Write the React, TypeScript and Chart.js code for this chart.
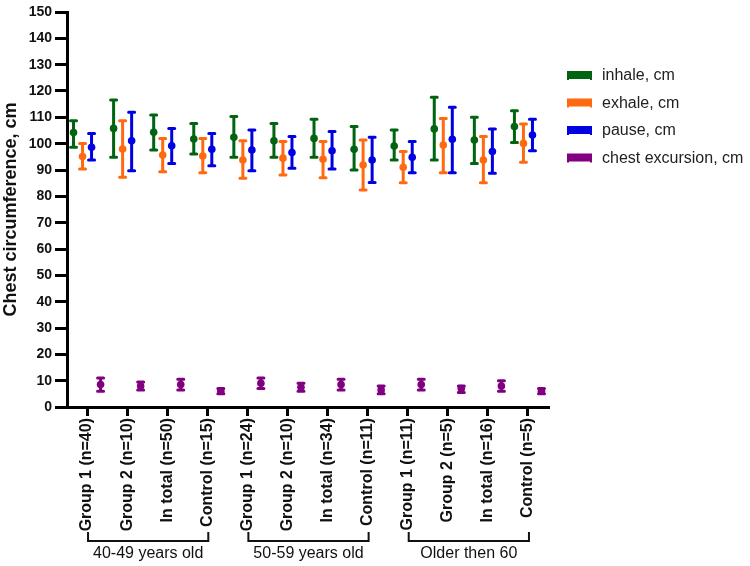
import { useEffect, useRef } from 'react';
import { Chart, registerables } from 'chart.js';

Chart.register(...registerables);

const FONT = "'Liberation Sans', Arial, sans-serif";

const categories = [
  'Group 1 (n=40)', 'Group 2 (n=10)', 'In total (n=50)', 'Control (n=15)',
  'Group 1 (n=24)', 'Group 2 (n=10)', 'In total (n=34)', 'Control (n=11)',
  'Group 1 (n=11)', 'Group 2 (n=5)', 'In total (n=16)', 'Control (n=5)',
];

const groupLabels = ['40-49 years old', '50-59 years old', 'Older then 60'];
const groupFirst = [0, 4, 8];
const groupLast = [3, 7, 11];

const seriesLabels = ['inhale, cm', 'exhale, cm', 'pause, cm', 'chest excursion, cm'];
const seriesColors = ['#006410', '#ff6a10', '#0000e0', '#800080'];

const yTicksMin = 0;
const yTicksMax = 150;
const yTicksStep = 10;

const inhaleMean = [104.2, 105.8, 104.3, 101.8, 102.4, 101.1, 102.0, 97.9, 99.1, 105.6, 101.4, 106.5];
const inhaleLow = [98.6, 94.8, 97.6, 96.1, 94.8, 94.8, 94.8, 90.0, 93.8, 93.8, 92.5, 100.4];
const inhaleHigh = [108.7, 116.6, 110.9, 107.7, 110.3, 107.7, 109.3, 106.5, 105.2, 117.6, 110.0, 112.5];

const exhaleMean = [95.1, 98.0, 95.7, 95.3, 93.8, 94.5, 94.1, 91.9, 91.0, 99.5, 93.8, 100.1];
const exhaleLow = [90.4, 87.2, 89.3, 89.0, 86.9, 88.1, 87.1, 82.4, 85.2, 89.0, 85.2, 92.9];
const exhaleHigh = [100.1, 108.7, 102.0, 102.0, 101.1, 100.8, 100.8, 101.4, 97.0, 109.6, 102.7, 107.5];

const pauseMean = [98.6, 101.1, 99.2, 97.9, 97.6, 96.6, 97.3, 93.8, 94.8, 101.7, 97.0, 103.3];
const pauseLow = [93.8, 89.7, 92.5, 91.6, 89.7, 90.7, 90.4, 85.3, 89.0, 89.0, 88.8, 97.3];
const pauseHigh = [103.9, 111.9, 105.8, 103.9, 105.2, 102.7, 104.6, 102.4, 100.8, 113.8, 105.6, 109.3];

const excursionMean = [8.5, 8.0, 8.5, 6.0, 9.0, 7.5, 8.5, 6.5, 8.5, 7.0, 8.0, 6.0];
const excursionLow = [6.0, 6.5, 6.5, 5.0, 7.0, 6.0, 6.5, 5.0, 6.5, 5.5, 6.0, 5.0];
const excursionHigh = [11.0, 9.5, 10.5, 7.0, 11.0, 9.0, 10.5, 8.0, 10.5, 8.0, 10.0, 7.0];

const errorBarPlugin = {
  id: 'errorBars',
  afterDatasetsDraw(chart: any) {
    const ctx = chart.ctx;
    const yScale = chart.scales.y;
    chart.data.datasets.forEach((ds: any, di: number) => {
      const meta = chart.getDatasetMeta(di);
      ctx.save();
      ctx.strokeStyle = ds.errColor;
      ctx.fillStyle = ds.errColor;
      ctx.lineWidth = 3;
      ctx.lineCap = 'round';
      meta.data.forEach((el: any, j: number) => {
        const x = el.x;
        const yl = yScale.getPixelForValue(ds.low[j]);
        const yh = yScale.getPixelForValue(ds.high[j]);
        const ym = yScale.getPixelForValue(ds.data[j]);
        ctx.beginPath();
        ctx.moveTo(x, yl);
        ctx.lineTo(x, yh);
        ctx.moveTo(x - 3, yl);
        ctx.lineTo(x + 3, yl);
        ctx.moveTo(x - 3, yh);
        ctx.lineTo(x + 3, yh);
        ctx.stroke();
        ctx.beginPath();
        ctx.arc(x, ym, 3.8, 0, Math.PI * 2);
        ctx.fill();
      });
      ctx.restore();
    });
  },
};

const groupsPlugin = {
  id: 'groupBrackets',
  afterDraw(chart: any) {
    const ctx = chart.ctx;
    const xScale = chart.scales.x;
    const base = chart.chartArea.bottom;
    ctx.save();
    ctx.strokeStyle = '#111';
    ctx.lineWidth = 2;
    ctx.fillStyle = '#111';
    ctx.font = `16px ${FONT}`;
    ctx.textAlign = 'center';
    ctx.textBaseline = 'middle';
    groupLabels.forEach((label, g) => {
      const x1 = xScale.getPixelForValue(groupFirst[g]) + 1;
      const x2 = xScale.getPixelForValue(groupLast[g]) + 1;
      ctx.beginPath();
      ctx.moveTo(x1, base + 125);
      ctx.lineTo(x1, base + 134);
      ctx.lineTo(x2, base + 134);
      ctx.lineTo(x2, base + 125);
      ctx.stroke();
      ctx.fillText(label, (x1 + x2) / 2, base + 147);
    });
    ctx.restore();

    // legend
    ctx.save();
    ctx.font = `16px ${FONT}`;
    ctx.textAlign = 'left';
    ctx.textBaseline = 'middle';
    const lx = chart.chartArea.right + 19;
    chart.data.datasets.forEach((ds: any, i: number) => {
      const cy = 75 + i * 27.5;
      ctx.fillStyle = ds.errColor;
      ctx.fillRect(lx, cy - 4, 25, 8);
      ctx.fillRect(lx, cy + 2, 2, 3);
      ctx.fillRect(lx + 23, cy + 2, 2, 3);
      ctx.fillStyle = '#222';
      ctx.fillText(ds.label, lx + 35, cy + 1);
    });
    ctx.restore();
  },
};

export default function App() {
  const ref = useRef<HTMLCanvasElement>(null);

  useEffect(() => {
    if (!ref.current) return;
    const means = [inhaleMean, exhaleMean, pauseMean, excursionMean];
    const lows = [inhaleLow, exhaleLow, pauseLow, excursionLow];
    const highs = [inhaleHigh, exhaleHigh, pauseHigh, excursionHigh];
    const chart = new Chart(ref.current, {
      type: 'bar',
      data: {
        labels: categories,
        datasets: seriesLabels.map((label, i) => ({
          label,
          data: means[i],
          low: lows[i],
          high: highs[i],
          errColor: seriesColors[i],
          backgroundColor: 'rgba(0,0,0,0)',
          borderWidth: 0,
          categoryPercentage: 0.9,
          barPercentage: 1,
        })) as any,
      },
      options: {
        responsive: false,
        animation: false,
        layout: { padding: { top: 12, right: 202, bottom: 0, left: 0 } },
        plugins: {
          legend: { display: false },
          tooltip: { enabled: false },
        },
        scales: {
          x: {
            afterFit: (scale: any) => { scale.height = 159; },
            border: { display: true, color: '#000', width: 3 },
            grid: {
              offset: false,
              drawOnChartArea: false,
              drawTicks: true,
              tickLength: 9,
              color: '#000',
              lineWidth: 3,
            },
            ticks: {
              autoSkip: false,
              maxRotation: 90,
              minRotation: 90,
              padding: 2,
              color: '#111',
              font: { family: FONT, size: 16, weight: 'bold' },
            },
          },
          y: {
            min: yTicksMin,
            max: yTicksMax,
            afterFit: (scale: any) => { scale.width = 67; },
            border: { display: true, color: '#000', width: 3 },
            grid: {
              drawOnChartArea: false,
              drawTicks: true,
              tickLength: 12,
              color: '#000',
              lineWidth: 3,
            },
            ticks: {
              stepSize: yTicksStep,
              autoSkip: false,
              padding: 3,
              color: '#111',
              font: { family: FONT, size: 14, weight: 'bold' },
            },
            title: {
              display: true,
              text: 'Chest circumference, cm',
              color: '#111',
              padding: { top: 0, bottom: 0 },
              font: { family: FONT, size: 18, weight: 'bold' },
            },
          },
        },
      },
      plugins: [errorBarPlugin, groupsPlugin],
    } as any);
    return () => chart.destroy();
  }, []);

  return (
    <div style={{ position: 'fixed', left: 0, top: 0, width: 750, height: 566, background: '#fff' }}>
      <canvas ref={ref} width={750} height={566} style={{ display: 'block' }} />
    </div>
  );
}
